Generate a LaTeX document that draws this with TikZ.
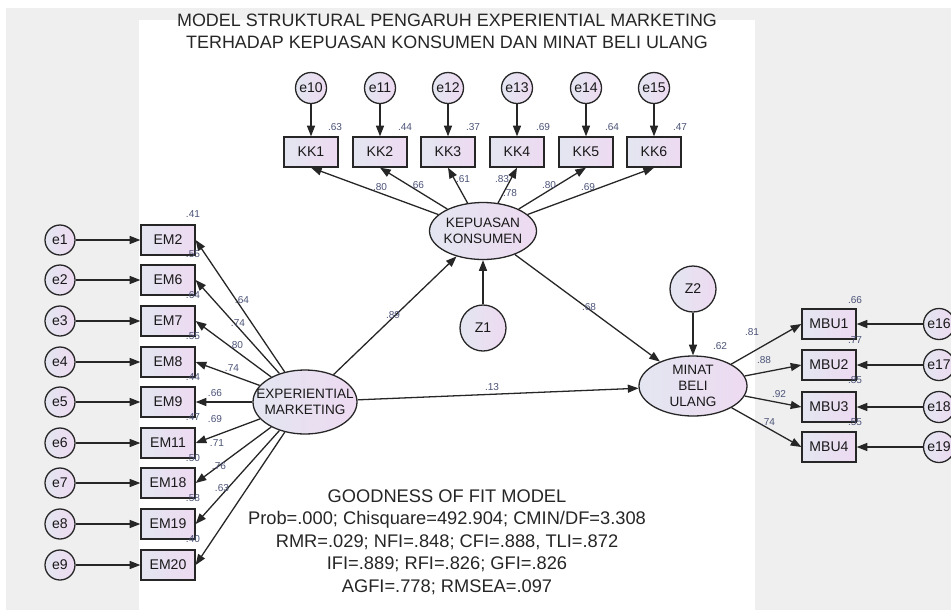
\documentclass[tikz,border=0pt]{standalone}
\usepackage{fontspec}
\setmainfont{Liberation Sans}
\usetikzlibrary{shapes.geometric,arrows.meta}
\definecolor{bggray}{HTML}{EFEFEF}
\definecolor{labblue}{rgb}{0.30, 0.33, 0.47}
\definecolor{fillleft}{HTML}{E3E6F1}
\definecolor{fillright}{HTML}{EEDAF1}
\definecolor{edgegray}{HTML}{262626}

\begin{document}
\begin{tikzpicture}[x=0.03cm,y=-0.03cm,
  obs/.style={draw=edgegray,line width=1.1pt,left color=fillleft,right color=fillright,minimum width=1.62cm,minimum height=0.9cm,inner sep=0pt,text=black!90,font=\fontsize{12}{13}\selectfont},
  err/.style={draw=edgegray,line width=1.1pt,circle,left color=fillleft,right color=fillright,minimum size=0.93cm,inner sep=0pt,text=black!90,font=\fontsize{12}{13}\selectfont},
  dist/.style={err,minimum size=1.38cm},
  lat/.style={draw=edgegray,line width=1.1pt,ellipse,left color=fillleft,right color=fillright,inner xsep=-0.5cm,inner ysep=-0.1cm,align=center,text=black!90,font=\fontsize{11.6}{13.6}\selectfont},
  lab/.style={text=labblue,inner sep=0pt,font=\fontsize{8.6}{9}\selectfont},
  arr/.style={draw=edgegray,line width=1.1pt,-{Triangle[length=3.2mm,width=2.4mm]}},
  bigtext/.style={align=center,text=black!85,font=\fontsize{15.3}{19}\selectfont}]
%================================================================
%	Background
\useasboundingbox (0,0) rectangle (951,610);
\fill[bggray] (6,8) rectangle (951,610);
\fill[white] (139,20) rectangle (755,610);
%----------------------------------------------------------------
\node[bigtext] (title) at (447,31) {MODEL STRUKTURAL PENGARUH EXPERIENTIAL MARKETING\\TERHADAP KEPUASAN KONSUMEN DAN MINAT BELI ULANG};
\node[bigtext,font=\fontsize{15.6}{19.2}\selectfont] (gof) at (447,542) {GOODNESS OF FIT MODEL\\Prob=.000; Chisquare=492.904; CMIN/DF=3.308\\RMR=.029; NFI=.848; CFI=.888, TLI=.872\\IFI=.889; RFI=.826; GFI=.826\\AGFI=.778; RMSEA=.097};

%================================================================
%	Latent variables
\node[lat,minimum width=3.12cm,minimum height=1.92cm] (exp) at (305,402) {EXPERIENTIAL\\MARKETING};
\node[lat,minimum width=3.21cm,minimum height=1.71cm] (kep) at (483,231) {KEPUASAN\\KONSUMEN};
\node[lat,minimum width=3.24cm,minimum height=1.8cm] (minat) at (693,386) {MINAT\\BELI\\ULANG};
\node[dist] (z1) at (483,328) {Z1};
\node[dist] (z2) at (693,289) {Z2};

%================================================================
%	Top indicators
\node[obs] (kk1) at (311,152) {KK1};
\node[obs] (kk2) at (380,152) {KK2};
\node[obs] (kk3) at (448,152) {KK3};
\node[obs] (kk4) at (517,152) {KK4};
\node[obs] (kk5) at (586,152) {KK5};
\node[obs] (kk6) at (654,152) {KK6};
%----------------------------------------------------------------
\node[err] (e10) at (311,88) {e10};
\node[err] (e11) at (380,88) {e11};
\node[err] (e12) at (448,88) {e12};
\node[err] (e13) at (517,88) {e13};
\node[err] (e14) at (586,88) {e14};
\node[err] (e15) at (654,88) {e15};

%================================================================
%	Left indicators
\node[obs] (em2) at (168,240) {EM2};
\node[obs] (em6) at (168,280) {EM6};
\node[obs] (em7) at (168,321) {EM7};
\node[obs] (em8) at (168,362) {EM8};
\node[obs] (em9) at (168,402) {EM9};
\node[obs] (em11) at (168,443) {EM11};
\node[obs] (em18) at (168,483) {EM18};
\node[obs] (em19) at (168,524) {EM19};
\node[obs] (em20) at (168,565) {EM20};
%----------------------------------------------------------------
\node[err,minimum size=0.9cm] (e1) at (60,240) {e1};
\node[err,minimum size=0.9cm] (e2) at (60,280) {e2};
\node[err,minimum size=0.9cm] (e3) at (60,321) {e3};
\node[err,minimum size=0.9cm] (e4) at (60,362) {e4};
\node[err,minimum size=0.9cm] (e5) at (60,402) {e5};
\node[err,minimum size=0.9cm] (e6) at (60,443) {e6};
\node[err,minimum size=0.9cm] (e7) at (60,483) {e7};
\node[err,minimum size=0.9cm] (e8) at (60,524) {e8};
\node[err,minimum size=0.9cm] (e9) at (60,565) {e9};

%================================================================
%	Right indicators
\node[obs] (mbu1) at (829,324) {MBU1};
\node[obs] (mbu2) at (829,365) {MBU2};
\node[obs] (mbu3) at (829,407) {MBU3};
\node[obs] (mbu4) at (829,447) {MBU4};
%----------------------------------------------------------------
\node[err] (e16) at (939,324) {e16};
\node[err] (e17) at (939,365) {e17};
\node[err] (e18) at (939,407) {e18};
\node[err] (e19) at (939,447) {e19};

%================================================================
%	Arrows
\draw[arr] (exp) -- (kep);
\draw[arr] (exp) -- (minat);
\draw[arr] (kep) -- (minat);
\draw[arr] (z1) -- (kep);
\draw[arr] (z2) -- (minat);
%----------------------------------------------------------------
\draw[arr] (kep) -- (kk1.south);
\draw[arr] (kep) -- (kk2.south);
\draw[arr] (kep) -- (kk3.south);
\draw[arr] (kep) -- (kk4.south);
\draw[arr] (kep) -- (kk5.south);
\draw[arr] (kep) -- (kk6.south);
\draw[arr] (e10) -- (kk1);
\draw[arr] (e11) -- (kk2);
\draw[arr] (e12) -- (kk3);
\draw[arr] (e13) -- (kk4);
\draw[arr] (e14) -- (kk5);
\draw[arr] (e15) -- (kk6);
%----------------------------------------------------------------
\draw[arr] (exp) -- (em2.east);
\draw[arr] (exp) -- (em6.east);
\draw[arr] (exp) -- (em7.east);
\draw[arr] (exp) -- (em8.east);
\draw[arr] (exp) -- (em9.east);
\draw[arr] (exp) -- (em11.east);
\draw[arr] (exp) -- (em18.east);
\draw[arr] (exp) -- (em19.east);
\draw[arr] (exp) -- (em20.east);
\draw[arr] (e1) -- (em2);
\draw[arr] (e2) -- (em6);
\draw[arr] (e3) -- (em7);
\draw[arr] (e4) -- (em8);
\draw[arr] (e5) -- (em9);
\draw[arr] (e6) -- (em11);
\draw[arr] (e7) -- (em18);
\draw[arr] (e8) -- (em19);
\draw[arr] (e9) -- (em20);
%----------------------------------------------------------------
\draw[arr] (minat) -- (mbu1.west);
\draw[arr] (minat) -- (mbu2.west);
\draw[arr] (minat) -- (mbu3.west);
\draw[arr] (minat) -- (mbu4.west);
\draw[arr] (e16) -- (mbu1);
\draw[arr] (e17) -- (mbu2);
\draw[arr] (e18) -- (mbu3);
\draw[arr] (e19) -- (mbu4);

%================================================================
%	Estimates
\node[lab] (r-kk1) at (335,127) {.63};
\node[lab] (r-kk2) at (405,127) {.44};
\node[lab] (r-kk3) at (473,127) {.37};
\node[lab] (r-kk4) at (543,127) {.69};
\node[lab] (r-kk5) at (612,127) {.64};
\node[lab] (r-kk6) at (680,127) {.47};
\node[lab] (l-kk1) at (380,187) {.80};
\node[lab] (l-kk2) at (417,185) {.66};
\node[lab] (l-kk3) at (463,179) {.61};
\node[lab] (l-kk4) at (502,179) {.83};
\node[lab] (r-kep) at (510,193) {.78};
\node[lab] (l-kk5) at (549,185) {.80};
\node[lab] (l-kk6) at (588,187) {.69};
%----------------------------------------------------------------
\node[lab] (r-em2) at (193,214) {.41};
\node[lab] (r-em6) at (193,254) {.55};
\node[lab] (r-em7) at (193,295) {.64};
\node[lab] (r-em8) at (193,336) {.55};
\node[lab] (r-em9) at (193,377) {.44};
\node[lab] (r-em11) at (193,417) {.47};
\node[lab] (r-em18) at (193,458) {.50};
\node[lab] (r-em19) at (193,498) {.58};
\node[lab] (r-em20) at (193,539) {.40};
\node[lab] (l-em2) at (242,300) {.64};
\node[lab] (l-em6) at (238,323) {.74};
\node[lab] (l-em7) at (236,345) {.80};
\node[lab] (l-em8) at (232,368) {.74};
\node[lab] (l-em9) at (215,393) {.66};
\node[lab] (l-em11) at (215,419) {.69};
\node[lab] (l-em18) at (217,443) {.71};
\node[lab] (l-em19) at (219,466) {.76};
\node[lab] (l-em20) at (222,488) {.63};
%----------------------------------------------------------------
\node[lab] (l-expkep) at (393,315) {.89};
\node[lab] (l-kepmin) at (589,307) {.68};
\node[lab] (l-expmin) at (492,387) {.13};
\node[lab] (r-minat) at (720,346) {.62};
\node[lab] (l-mbu1) at (752,332) {.81};
\node[lab] (l-mbu2) at (764,360) {.88};
\node[lab] (l-mbu3) at (779,394) {.92};
\node[lab] (l-mbu4) at (768,422) {.74};
\node[lab] (r-mbu1) at (855,300) {.66};
\node[lab] (r-mbu2) at (855,340) {.77};
\node[lab] (r-mbu3) at (855,380) {.85};
\node[lab] (r-mbu4) at (855,422) {.55};
%================================================================
\end{tikzpicture}
\end{document}
